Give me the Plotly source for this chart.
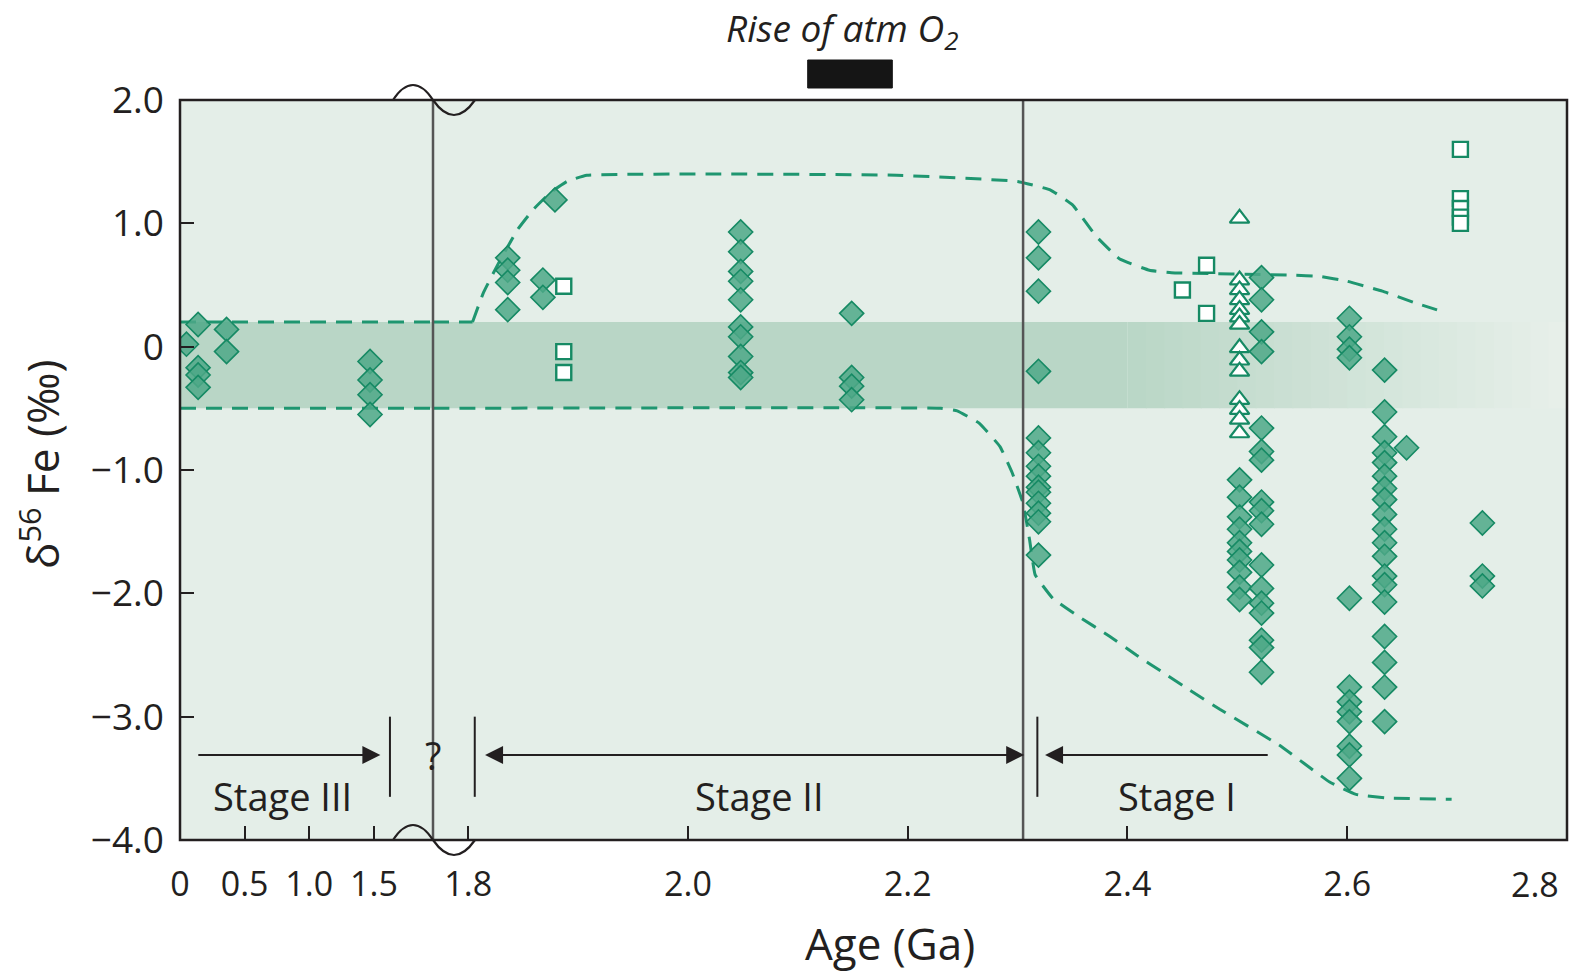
import plotly.graph_objects as go

# ---------------- data ----------------
# left, compressed part of the age axis (0 - 1.5 Ga)
left_diamond_age = [0.05, 0.14, 0.14, 0.14, 0.14, 0.36, 0.36, 1.47, 1.47, 1.47, 1.47]
left_diamond_d56 = [0.02, 0.18, -0.17, -0.23, -0.33, 0.14, -0.04, -0.12, -0.27, -0.39, -0.55]

# right part (1.8 - 2.8 Ga): filled diamonds, one list per age column
col_1836 = [0.72, 0.62, 0.52, 0.30]
col_1868 = [0.54, 0.40]
col_1879 = [1.19]
col_2048 = [0.93, 0.77, 0.61, 0.53, 0.38, 0.16, 0.08, -0.08, -0.21, -0.25]
col_2149 = [0.27, -0.25, -0.32, -0.43]
col_2319 = [0.93, 0.72, 0.45, -0.20, -0.74, -0.86, -0.97, -1.05, -1.14, -1.18,
            -1.27, -1.35, -1.42, -1.69]
col_2502 = [-1.08, -1.22, -1.38, -1.48, -1.59, -1.66, -1.73, -1.83, -1.95, -2.05]
col_2522 = [0.56, 0.38, 0.12, -0.04, -0.66, -0.85, -0.92, -1.26, -1.33, -1.44,
            -1.77, -1.96, -2.08, -2.16, -2.38, -2.44, -2.64]
col_2602 = [0.23, 0.08, -0.02, -0.09, -2.04, -2.76, -2.88, -2.96, -3.04, -3.24,
            -3.31, -3.50]
col_2634 = [-0.19, -0.53, -0.73, -0.86, -0.94, -1.05, -1.15, -1.24, -1.36, -1.48,
            -1.59, -1.70, -1.86, -1.93, -2.07, -2.35, -2.56, -2.76, -3.04]
col_2654 = [-0.82]
col_2723 = [-1.43, -1.86, -1.94]
diamond_col_ages = [1.836, 1.868, 1.879, 2.048, 2.149, 2.319, 2.502, 2.522,
                    2.602, 2.634, 2.654, 2.723]
diamond_cols = [col_1836, col_1868, col_1879, col_2048, col_2149, col_2319,
                col_2502, col_2522, col_2602, col_2634, col_2654, col_2723]

# open squares
square_age = [1.887, 1.887, 1.887, 2.450, 2.472, 2.472, 2.703, 2.703, 2.703, 2.703, 2.703]
square_d56 = [0.49, -0.04, -0.21, 0.46, 0.66, 0.27, 1.60, 1.20, 1.12, 1.05, 1.00]

# open triangles
triangle_age = [2.502] * 14
triangle_d56 = [1.04, 0.54, 0.46, 0.38, 0.30, 0.24, 0.18, -0.01, -0.11, -0.20,
                -0.43, -0.51, -0.59, -0.70]

# dashed envelopes
upper_flat_age = [1.768, 1.804]
upper_flat_val = [0.20, 0.20]
upper_env_age = [1.804, 1.814, 1.829, 1.845, 1.859, 1.875, 1.890, 1.908, 2.03,
                 2.19, 2.30, 2.33, 2.35, 2.372, 2.393, 2.42, 2.44, 2.55, 2.575,
                 2.60, 2.632, 2.66, 2.688]
upper_env_val = [0.20, 0.44, 0.70, 0.95, 1.11, 1.25, 1.34, 1.39, 1.40,
                 1.39, 1.34, 1.27, 1.15, 0.89, 0.71, 0.62, 0.60, 0.58, 0.57,
                 0.53, 0.45, 0.36, 0.28]
lower_env_age = [1.768, 2.23, 2.245, 2.265, 2.284, 2.295, 2.305, 2.311, 2.316, 2.332,
                 2.356, 2.384, 2.408, 2.432, 2.456, 2.484, 2.538, 2.584, 2.608,
                 2.638, 2.695]
lower_env_val = [-0.50, -0.50, -0.52, -0.62, -0.81, -1.02, -1.27, -1.57, -1.85, -2.04,
                 -2.19, -2.35, -2.50, -2.64, -2.78, -2.94, -3.23, -3.53, -3.63,
                 -3.66, -3.67]
left_env_age = [0.0, 1.957]
left_env_upper = [0.2, 0.2]
left_env_lower = [-0.5, -0.5]

band_low, band_high = -0.5, 0.2
stage_boundary_age = 2.305
y_ticks = [2, 1, 0, -1, -2, -3, -4]
y_ticktext = ["2.0", "1.0", "0", "\u22121.0", "\u22122.0", "\u22123.0", "\u22124.0"]
left_ticks = [0, 0.5, 1.0, 1.5]
left_ticktext = ["0", "0.5", "1.0", "1.5"]
right_ticks = [1.8, 2.0, 2.2, 2.4, 2.6]
right_ticktext = ["1.8", "2.0", "2.2", "2.4", "2.6"]

# ---------------- styling ----------------
W, H = 1570, 974
ML, MR, MT, MB = 180, 3, 100, 134
PW, PH = W - ML - MR, H - MT - MB
BREAK_PX = 433
split = (BREAK_PX - ML) / PW

BG = "#e4eee8"
BAND = (185, 214, 198)
BGRGB = (232, 240, 234)
GREEN_LINE = "#1f9670"
DIA_FILL = "rgba(78,168,135,0.85)"
DIA_EDGE = "#168a64"
TXT = "#231f20"
FONT = "Open Sans"


def ppx(px):
    return (px - ML) / PW


def ppy(py):
    return (MT + PH - py) / PH


fig = go.Figure()

# envelopes
env_style = dict(color=GREEN_LINE, width=3, dash="16px,10px")
for yy in (left_env_upper, left_env_lower):
    fig.add_trace(go.Scatter(x=left_env_age, y=yy, mode="lines", line=env_style,
                             xaxis="x", yaxis="y", hoverinfo="skip"))
fig.add_trace(go.Scatter(x=upper_flat_age, y=upper_flat_val, mode="lines",
                         line=env_style, xaxis="x2", yaxis="y", hoverinfo="skip"))
fig.add_trace(go.Scatter(x=upper_env_age, y=upper_env_val, mode="lines",
                         line=dict(**env_style, shape="spline", smoothing=0.3),
                         xaxis="x2", yaxis="y", hoverinfo="skip"))
fig.add_trace(go.Scatter(x=lower_env_age, y=lower_env_val, mode="lines",
                         line=dict(**env_style, shape="spline", smoothing=0.3),
                         xaxis="x2", yaxis="y", hoverinfo="skip"))

dia_marker = dict(symbol="diamond", size=18.5, color=DIA_FILL,
                  line=dict(color=DIA_EDGE, width=1.6))
fig.add_trace(go.Scatter(x=left_diamond_age, y=left_diamond_d56, mode="markers",
                         marker=dia_marker, xaxis="x", yaxis="y"))
d_age, d_val = [], []
for a, col in zip(diamond_col_ages, diamond_cols):
    d_age += [a] * len(col)
    d_val += col
fig.add_trace(go.Scatter(x=d_age, y=d_val, mode="markers", marker=dia_marker,
                         xaxis="x2", yaxis="y"))
fig.add_trace(go.Scatter(x=square_age, y=square_d56, mode="markers",
                         marker=dict(symbol="square", size=15, color="white",
                                     line=dict(color=DIA_EDGE, width=2.4)),
                         xaxis="x2", yaxis="y"))
fig.add_trace(go.Scatter(x=triangle_age, y=triangle_d56, mode="markers",
                         marker=dict(symbol="triangle-up", size=17, color="white",
                                     line=dict(color=DIA_EDGE, width=2.2)),
                         xaxis="x2", yaxis="y"))

shapes = []
# shaded band
band_col = "rgb(%d,%d,%d)" % BAND
shapes.append(dict(type="rect", xref="x", yref="y", x0=0, x1=1.957, y0=band_low,
                   y1=band_high, fillcolor=band_col, line=dict(width=0), layer="below"))
shapes.append(dict(type="rect", xref="x2", yref="y", x0=1.768, x1=2.40, y0=band_low,
                   y1=band_high, fillcolor=band_col, line=dict(width=0), layer="below"))
n = 24
for i in range(n):
    a0 = 2.40 + i * 0.40 / n
    a1 = 2.40 + (i + 1) * 0.40 / n
    t = (i + 0.5) / n
    c = tuple(int(round(BAND[k] + (BGRGB[k] - BAND[k]) * t)) for k in range(3))
    shapes.append(dict(type="rect", xref="x2", yref="y", x0=a0, x1=a1 + 0.001,
                       y0=band_low, y1=band_high, fillcolor="rgb(%d,%d,%d)" % c,
                       line=dict(width=0), layer="below"))

# vertical lines
shapes.append(dict(type="line", xref="paper", yref="paper", x0=split, x1=split,
                   y0=0, y1=1, line=dict(color="#555555", width=2.5), layer="above"))
shapes.append(dict(type="line", xref="x2", yref="paper", x0=stage_boundary_age,
                   x1=stage_boundary_age, y0=0, y1=1,
                   line=dict(color="#555555", width=2.5), layer="above"))
# frame
shapes.append(dict(type="rect", xref="paper", yref="paper", x0=0, x1=1, y0=0, y1=1,
                   line=dict(color=TXT, width=2.5), layer="above"))


# axis-break wiggles
def wave(py):
    pts = [(393, py), (406, py - 20), (420, py - 20), (433, py),
           (447, py + 20), (461, py + 20), (475, py)]
    p = [(ppx(x), ppy(y)) for x, y in pts]
    return ("M %f,%f C %f,%f %f,%f %f,%f C %f,%f %f,%f %f,%f" %
            tuple(v for xy in p for v in xy))


for py in (MT, MT + PH):
    shapes.append(dict(type="path", xref="paper", yref="paper", path=wave(py),
                       line=dict(color=TXT, width=2.2), layer="above"))

# stage separator bars
for xr, xv in (("x", 1.624), ("x2", 1.806), ("x2", 2.318)):
    shapes.append(dict(type="line", xref=xr, yref="y", x0=xv, x1=xv, y0=-3.0,
                       y1=-3.65, line=dict(color=TXT, width=2), layer="above"))

# rise of O2 bar
shapes.append(dict(type="rect", xref="x2", yref="paper", x0=2.109, x1=2.186,
                   y0=ppy(88), y1=ppy(60), fillcolor="#151515",
                   line=dict(color="#151515", width=1)))

ann = []
arrow_kw = dict(showarrow=True, text="", arrowhead=2, arrowsize=1.8, arrowwidth=2,
                arrowcolor=TXT, standoff=0, startstandoff=0)
ann.append(dict(x=1.55, y=-3.31, ax=0.13, ay=-3.31, xref="x", yref="y",
                axref="x", ayref="y", **arrow_kw))
ann.append(dict(x=2.306, y=-3.31, ax=1.814, ay=-3.31, xref="x2", yref="y",
                axref="x2", ayref="y", arrowside="end+start", **arrow_kw))
ann.append(dict(x=2.325, y=-3.31, ax=2.529, ay=-3.31, xref="x2", yref="y",
                axref="x2", ayref="y", **arrow_kw))

lab_font = dict(family=FONT, size=38, color=TXT)
ctr = dict(showarrow=False, xanchor="center", yanchor="middle")
ann.append(dict(x=0.79, y=-3.64, xref="x", yref="y", text="Stage III",
                font=lab_font, **ctr))
ann.append(dict(x=2.065, y=-3.64, xref="x2", yref="y", text="Stage II",
                font=lab_font, **ctr))
ann.append(dict(x=2.445, y=-3.64, xref="x2", yref="y", text="Stage I",
                font=lab_font, **ctr))
ann.append(dict(x=split, y=-3.31, xref="paper", yref="y", text="?",
                font=lab_font, **ctr))
ann.append(dict(x=2.14, y=ppy(30), xref="x2", yref="paper",
                text="<i>Rise of atm O<sub>2</sub></i>",
                font=dict(family=FONT, size=37, color=TXT), **ctr))
ann.append(dict(x=ppx(890), y=ppy(943), xref="paper", yref="paper", text="Age (Ga)",
                font=dict(family=FONT, size=44, color=TXT), **ctr))
ann.append(dict(x=ppx(40), y=ppy(465), xref="paper", yref="paper",
                text="\u03b4<sup>56</sup> Fe (\u2030)", textangle=-90,
                font=dict(family=FONT, size=44, color=TXT), **ctr))
ann.append(dict(x=2.8, y=ppy(884), xref="x2", yref="paper", text="2.8",
                xanchor="right", yanchor="middle", xshift=-6, showarrow=False,
                font=dict(family=FONT, size=34, color=TXT)))

tick_font = dict(family=FONT, size=34, color=TXT)
fig.update_layout(
    width=W, height=H, margin=dict(l=ML, r=MR, t=MT, b=MB),
    paper_bgcolor="white", plot_bgcolor=BG, showlegend=False,
    shapes=shapes, annotations=ann,
    xaxis=dict(domain=[0, split], range=[0, 1.957], anchor="y", showgrid=False,
               zeroline=False, showline=False, ticks="inside", ticklen=14,
               tickwidth=2, tickcolor=TXT, tickvals=left_ticks,
               ticktext=left_ticktext, tickfont=tick_font, ticklabelstandoff=21),
    xaxis2=dict(domain=[split, 1], range=[1.768, 2.8], anchor="y", showgrid=False,
                zeroline=False, showline=False, ticks="inside", ticklen=14,
                tickwidth=2, tickcolor=TXT, tickvals=right_ticks,
                ticktext=right_ticktext, tickfont=tick_font, ticklabelstandoff=21),
    yaxis=dict(domain=[0, 1], range=[-4, 2], anchor="x", showgrid=False,
               zeroline=False, showline=False, ticks="inside", ticklen=14,
               tickwidth=2, tickcolor=TXT, tickvals=y_ticks, ticktext=y_ticktext,
               tickfont=dict(family=FONT, size=37, color=TXT), ticklabelstandoff=15),
)

fig.write_html("out.html")
